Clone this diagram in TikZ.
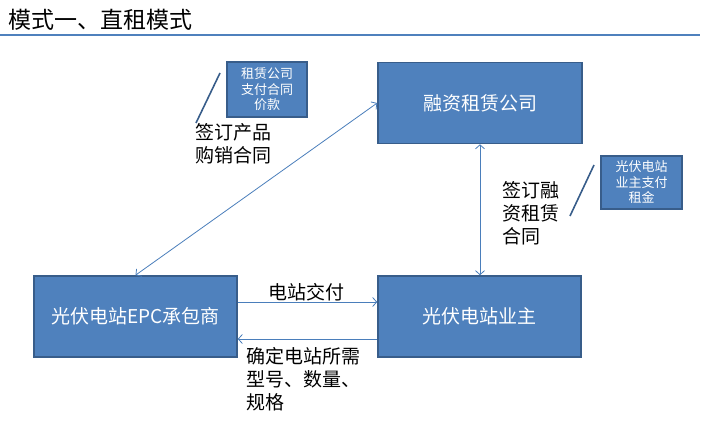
\documentclass[tikz,border=0pt]{standalone}
\usepackage{fontspec}
\setmainfont{Noto Sans CJK SC}
\usetikzlibrary{arrows.meta,positioning}
\definecolor{boxfill}{HTML}{4F81BD}
\definecolor{boxline}{HTML}{385D8A}
\definecolor{linkblue}{HTML}{4A7EBB}

\begin{document}
\begin{tikzpicture}[
  x=1pt,y=-1pt,
  bigbox/.style={draw=boxline, fill=boxfill, line width=1.6pt, minimum width=203pt, minimum height=81pt, text=white, font=\fontsize{19}{22}\selectfont, inner sep=0pt},
  notebox/.style={draw=boxline, fill=boxfill, line width=1.6pt, align=center, text=white, font=\fontsize{13}{15.5}\selectfont, inner sep=0pt},
  lbl/.style={align=left, font=\fontsize{19}{23}\selectfont, inner sep=0pt, anchor=north west},
  arr/.style={-{Straight Barb[length=4pt,width=9pt]}, draw=linkblue, line width=0.8pt},
  dblarr/.style={{Straight Barb[length=4pt,width=9pt]}-{Straight Barb[length=4pt,width=9pt]}, draw=linkblue, line width=0.8pt},
  callout/.style={draw=boxline, line width=1.6pt}
]
\useasboundingbox (0,0) rectangle (704,422);
% title
\node[anchor=west, inner sep=0pt, font=\fontsize{23}{26}\selectfont] (title) at (8,20) {模式一、直租模式};
\draw[draw=boxfill, line width=1.4pt] (0,35) -- (700,35);
% main boxes
\node[bigbox] (epc) at (135.5,316.5) {光伏电站EPC承包商};
\node[bigbox] (owner) at (479.5,316.5) {光伏电站业主};
\node[bigbox, minimum width=204pt] (lessor) at (480,103) {融资租赁公司};
% notes
\node[notebox, minimum width=80pt, minimum height=55pt] (paylessor) at (267,89.5) {租赁公司\\支付合同\\价款};
\node[notebox, minimum width=81pt, minimum height=53pt] (payowner) at (641.5,182.5) {光伏电站\\业主支付\\租金};
\draw[callout] (220,73) -- (196,123);
\draw[callout] (594,165) -- (570,216);
% links
\draw[dblarr] (epc.north) -- (lessor.west);
\draw[dblarr] (lessor.south) -- (lessor.south |- owner.north);
\draw[arr] ([yshift=14.5pt]epc.east) -- ([yshift=14.5pt]owner.west);
\draw[arr] ([yshift=-22.5pt]owner.west) -- ([yshift=-22.5pt]epc.east);
% labels
\node[lbl] (buy) at (195,123) {签订产品\\购销合同};
\node[lbl] (lease) at (502,181) {签订融\\资租赁\\合同};
\node[lbl, anchor=center] (deliver) at (306,292) {电站交付};
\node[lbl] (spec) at (246,347) {确定电站所需\\型号、数量、\\规格};
\end{tikzpicture}
\end{document}
